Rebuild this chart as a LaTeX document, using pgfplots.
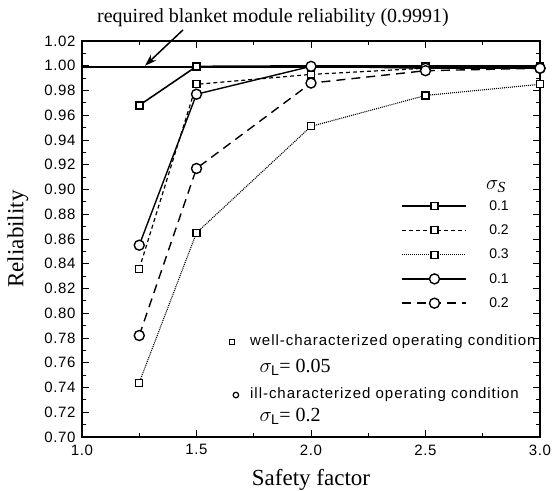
\documentclass[border=0pt]{standalone}
\usepackage{fontspec}
\setmainfont{Liberation Serif}
\setsansfont{Liberation Sans}
\usepackage{pgfplots}
\pgfplotsset{compat=1.18}
\usetikzlibrary{arrows.meta}

\newcommand{\ticksf}{\sffamily\fontsize{15}{15}\selectfont\addfontfeatures{LetterSpace=4}}
\newcommand{\notesf}{\sffamily\fontsize{15}{15}\selectfont\addfontfeatures{LetterSpace=6.4}}

\begin{document}
\begin{tikzpicture}[x=1pt,y=1pt]
\begin{axis}[
    at={(0,0)}, anchor=south west,
    scale only axis, width=458pt, height=396pt,
    xmin=1, xmax=3, ymin=0.70, ymax=1.02,
    xtick={1,1.5,2,2.5,3},
    ytick={0.70,0.72,0.74,0.76,0.78,0.80,0.82,0.84,0.86,0.88,0.90,0.92,0.94,0.96,0.98,1.00,1.02},
    minor x tick num=1, minor y tick num=1,
    tick align=inside, major tick length=7pt, minor tick length=4pt,
    axis line style={line width=1.3pt},
    every tick/.style={black, line width=1pt},
    x tick label style={font=\ticksf, yshift=-4pt,
        /pgf/number format/.cd, fixed, fixed zerofill, precision=1, assume math mode=true},
    y tick label style={font=\ticksf, xshift=-3pt,
        /pgf/number format/.cd, fixed, fixed zerofill, precision=2, assume math mode=true},
    xlabel={Safety factor},
    ylabel={Reliability},
    xlabel style={font=\fontsize{23}{23}\selectfont, at={(axis description cs:0.5,-0.108)}, anchor=center},
    ylabel style={font=\fontsize{23}{23}\selectfont, at={(axis description cs:-0.14,0.5)}, anchor=center},
    clip=false,
    legend image code/.code={\draw[mark repeat=2,mark phase=2] plot coordinates {(0pt,0pt)(32pt,0pt)(64pt,0pt)};},
    legend style={at={(rel axis cs:0.691,0.608)}, anchor=north west, draw=none, fill=none,
        font=\sffamily\fontsize{14}{14}\selectfont, row sep=9pt,
        nodes={inner sep=2pt},
        /tikz/every odd column/.append style={column sep=20pt}},
    legend cell align=left,
]
% required reliability
\addplot[black, line width=2.2pt, forget plot] coordinates {(1,0.9991) (3,0.9991)};

% well-characterized, sigma_S = 0.1
\addplot[black, line width=1.6pt, mark=square*, mark size=3.5pt, mark options={solid, fill=white}]
    coordinates {(1.25,0.968) (1.5,0.9995) (2.0,0.9999) (2.5,0.9999) (3.0,0.9999)};
\addlegendentry{0.1}
% well-characterized, sigma_S = 0.2
\addplot[black, line width=1.2pt, dash pattern=on 4pt off 3pt, mark=square*, mark size=3.5pt, mark options={solid, fill=white}]
    coordinates {(1.25,0.836) (1.5,0.985) (2.0,0.993) (2.5,0.998) (3.0,0.999)};
\addlegendentry{0.2}
% well-characterized, sigma_S = 0.3
\addplot[black, line width=1.1pt, dash pattern=on 1pt off 1pt, mark=square*, mark size=3.5pt, mark options={solid, fill=white}]
    coordinates {(1.25,0.744) (1.5,0.865) (2.0,0.951) (2.5,0.976) (3.0,0.985)};
\addlegendentry{0.3}
% ill-characterized, sigma_S = 0.1
\addplot[black, line width=1.4pt, mark=*, mark size=5pt, mark options={solid, fill=white}]
    coordinates {(1.25,0.855) (1.5,0.977) (2.0,0.9995) (2.5,0.998) (3.0,0.998)};
\addlegendentry{0.1}
% ill-characterized, sigma_S = 0.2
\addplot[black, line width=1.4pt, dash pattern=on 9pt off 6pt, mark=*, mark size=5pt, mark options={solid, fill=white}]
    coordinates {(1.25,0.782) (1.5,0.917) (2.0,0.986) (2.5,0.996) (3.0,0.998)};
\addlegendentry{0.2}

% annotations
\node[font=\fontsize{20}{20}\selectfont] at (rel axis cs:0.417,1.058) {required blanket module reliability (0.9991)};
\draw[-{Stealth[length=12pt,width=8pt]}, line width=1.5pt] (rel axis cs:0.2205,1.028) -- (axis cs:1.275,1.0);
\node[font=\fontsize{22}{22}\selectfont] at (rel axis cs:0.904,0.632) {$\sigma_{\mathit{S}}$};

\node[draw, line width=1.2pt, minimum size=5.5pt, inner sep=0pt] at (rel axis cs:0.3275,0.240) {};
\node[anchor=west, font=\notesf, inner sep=0pt] at (rel axis cs:0.3668,0.240) {well-characterized operating condition};
\node[anchor=west, font=\fontsize{20}{20}\selectfont] at (rel axis cs:0.380,0.175) {$\sigma_{\mathsf{L}}$= 0.05};
\node[draw, circle, line width=1.2pt, minimum size=5.5pt, inner sep=0pt] at (rel axis cs:0.336,0.106) {};
\node[anchor=west, font=\notesf, inner sep=0pt] at (rel axis cs:0.3668,0.106) {ill-characterized operating condition};
\node[anchor=west, font=\fontsize{20}{20}\selectfont] at (rel axis cs:0.380,0.053) {$\sigma_{\mathsf{L}}$= 0.2};
\end{axis}
\pgfresetboundingbox
\useasboundingbox (-82,-53) rectangle (471,437);
\end{tikzpicture}
\end{document}
